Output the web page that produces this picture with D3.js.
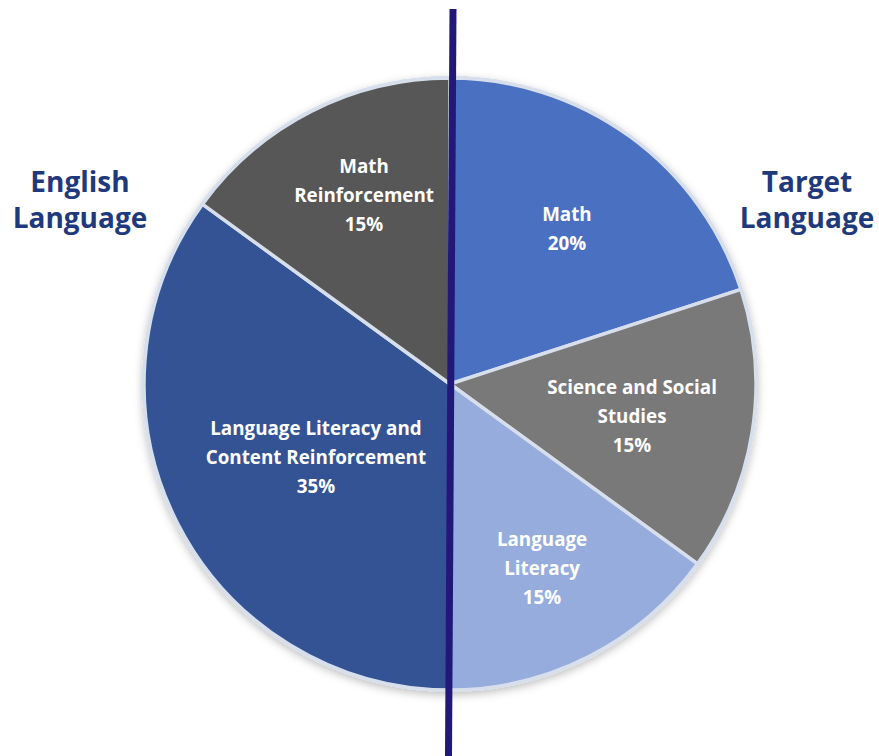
<!DOCTYPE html>
<html lang="en">
<head>
    <meta charset="UTF-8">
    <title>Program model</title>
    <style type="text/css">
        html, body { padding:0; margin:0; background:#fff; }
        text { font-family: "Open Sans", "Noto Sans", sans-serif; font-weight: bold; }
    </style>
</head>
<body>
<script src="https://d3js.org/d3.v7.min.js"></script>
<script type="text/javascript">
    // slice data, clockwise from 12 o'clock
    var categories = ['Math', 'Science and Social Studies', 'Language Literacy',
                      'Language Literacy and Content Reinforcement', 'Math Reinforcement'];
    var shares = [20, 15, 15, 35, 15];
    var labelLines = [
        ['Math'],
        ['Science and Social', 'Studies'],
        ['Language', 'Literacy'],
        ['Language Literacy and', 'Content Reinforcement'],
        ['Math', 'Reinforcement']
    ];
    var sideTitles = [['English', 'Language'], ['Target', 'Language']];

    var width = 879,
        height = 756,
        cx = 450, cy = 384,
        radius = 306,
        lineGap = 29,
        svg;

    var colors = d3.scaleOrdinal()
        .domain(categories)
        .range(['#4a71c1', '#797979', '#96acdc', '#345394', '#575757']);

    // where each label sits: part of the radius, and a small angle nudge (deg)
    var labelRadius = d3.scaleOrdinal()
        .domain(categories)
        .range([0.635, 0.604, 0.672, 0.499, 0.68]);
    var labelTurn = d3.scaleOrdinal()
        .domain(categories)
        .range([1, 1, 0.4, -1.6, 2.6]);

    svg = d3.select('body').append('svg')
            .attr('width', width)
            .attr('height', height);

    var defs = svg.append('defs');
    var shadow = defs.append('filter')
        .attr('id', 'shadow')
        .attr('x', '-10%').attr('y', '-10%')
        .attr('width', '120%').attr('height', '120%');
    shadow.append('feDropShadow')
        .attr('dx', 0).attr('dy', 3)
        .attr('stdDeviation', 4)
        .attr('flood-color', '#000')
        .attr('flood-opacity', 0.25);

    var pie = d3.pie().sort(null).value(function(d) { return d; });
    var arcs = pie(shares);
    var arc = d3.arc().innerRadius(0).outerRadius(radius);

    var g = svg.append('g').attr('transform', 'translate(' + cx + ',' + cy + ')');

    // outer rim with shadow
    g.append('circle')
        .attr('r', radius + 2)
        .attr('fill', '#d3dbea')
        .attr('filter', 'url(#shadow)');

    g.selectAll('path.slice')
        .data(arcs)
        .enter()
        .append('path')
        .attr('class', 'slice')
        .attr('d', arc)
        .attr('fill', function(d, i) { return colors(categories[i]); })
        .attr('stroke', '#d8dfec')
        .attr('stroke-width', 3.5)
        .attr('stroke-linejoin', 'round');

    var labels = g.selectAll('text.label')
        .data(arcs)
        .enter()
        .append('text')
        .attr('class', 'label')
        .attr('fill', '#fff')
        .attr('font-size', 18.8)
        .attr('text-anchor', 'middle')
        .attr('transform', function(d, i) {
            var r = radius * labelRadius(categories[i]);
            var a = (d.startAngle + d.endAngle) / 2 + labelTurn(categories[i]) * Math.PI / 180;
            return 'translate(' + (r * Math.sin(a)) + ',' + (-r * Math.cos(a)) + ')';
        });

    labels.each(function(d, i) {
        var lines = labelLines[i].concat([shares[i] + '%']);
        var t = d3.select(this);
        var y0 = -(lines.length - 1) * lineGap / 2 + 7;
        lines.forEach(function(s, j) {
            t.append('tspan').attr('x', 0).attr('y', y0 + j * lineGap).text(s);
        });
    });

    // divider between the two languages
    svg.append('line')
        .attr('x1', 453).attr('y1', 9)
        .attr('x2', 448.5).attr('y2', height)
        .attr('stroke', '#22187a')
        .attr('stroke-width', 7);

    // side headings
    var titleX = [80, 807];
    sideTitles.forEach(function(lines, k) {
        var t = svg.append('text')
            .attr('fill', '#1f3a7c')
            .attr('font-size', 28)
            .attr('text-anchor', 'middle');
        lines.forEach(function(s, j) {
            t.append('tspan').attr('x', titleX[k]).attr('y', 192 + j * 36).text(s);
        });
    });
</script>
</body>
</html>
